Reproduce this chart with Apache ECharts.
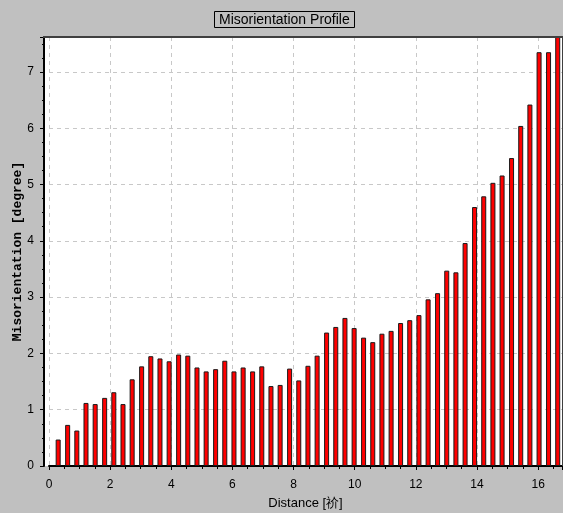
<!DOCTYPE html>
<html>
<head>
<meta charset="utf-8">
<script src="https://cdn.jsdelivr.net/npm/echarts@6/dist/echarts.min.js"></script>
<style>
  html, body { margin: 0; padding: 0; background: #c0c0c0; }
  #chart { width: 563px; height: 513px; }
</style>
</head>
<body>
<div id="chart"></div>
<script>
// distance along the profile (µm) for each bar
const distances = [
  0.30, 0.61, 0.91, 1.21, 1.51, 1.82, 2.12, 2.42, 2.72, 3.03,
  3.33, 3.63, 3.93, 4.24, 4.54, 4.84, 5.14, 5.45, 5.75, 6.05,
  6.35, 6.66, 6.96, 7.26, 7.56, 7.87, 8.17, 8.47, 8.77, 9.08,
  9.38, 9.68, 9.98, 10.29, 10.59, 10.89, 11.19, 11.50, 11.80, 12.10,
  12.40, 12.71, 13.01, 13.31, 13.61, 13.92, 14.22, 14.52, 14.82, 15.13,
  15.43, 15.73, 16.03, 16.34, 16.64
];

// misorientation in degrees
const misorientation = [
  0.47, 0.73, 0.63, 1.12, 1.10, 1.21, 1.31, 1.10, 1.54, 1.77,
  1.95, 1.91, 1.86, 1.98, 1.96, 1.75, 1.68, 1.72, 1.87, 1.68,
  1.75, 1.68, 1.77, 1.42, 1.44, 1.73, 1.52, 1.78, 1.96, 2.37,
  2.47, 2.63, 2.45, 2.28, 2.20, 2.35, 2.40, 2.54, 2.59, 2.68,
  2.96, 3.07, 3.47, 3.44, 3.96, 4.60, 4.79, 5.03, 5.16, 5.47,
  6.04, 6.42, 7.35, 7.35, 7.90
];

const xTicks = [0, 2, 4, 6, 8, 10, 12, 14, 16];
const yTicks = [0, 1, 2, 3, 4, 5, 6, 7];

const chart = echarts.init(document.getElementById('chart'));

const gridLine = {
  show: true,
  lineStyle: { color: '#c8c8c8', type: [4, 4], width: 1 }
};

const option = {
  backgroundColor: '#c0c0c0',
  animation: false,
  title: {
    text: 'Misorientation Profile',
    left: 214,
    top: 11,
    padding: [2, 5, 1, 5],
    borderColor: '#000',
    borderWidth: 1,
    textStyle: {
      fontFamily: 'Liberation Sans',
      fontSize: 14,
      fontWeight: 'normal',
      color: '#000'
    }
  },
  graphic: [
    {
      type: 'rect',
      z: -10,
      silent: true,
      shape: { x: 44, y: 37, width: 518, height: 429 },
      style: { fill: '#fff' }
    },
    {
      type: 'line',
      z: 10,
      silent: true,
      shape: { x1: 43, y1: 37, x2: 563, y2: 37 },
      style: { stroke: '#404040', lineWidth: 2 }
    },
    {
      type: 'line',
      z: 10,
      silent: true,
      shape: { x1: 562.5, y1: 37, x2: 562.5, y2: 466 },
      style: { stroke: '#404040', lineWidth: 1 }
    }
  ],
  grid: {
    left: 49,
    right: 1,
    top: 37,
    bottom: 47,
    containLabel: false,
    outerBoundsMode: 'none'
  },
  xAxis: {
    type: 'value',
    min: 0,
    max: 16.78,
    interval: 2,
    name: 'Distance [祄]',
    nameLocation: 'middle',
    nameGap: 31,
    nameMoveOverlap: false,
    nameTextStyle: { fontFamily: 'Liberation Sans', fontSize: 13, color: '#000' },
    axisLine: { show: true, onZero: false, lineStyle: { color: '#000', width: 2 } },
    axisTick: { show: true, length: 4, lineStyle: { color: '#000' } },
    minorTick: { show: true, splitNumber: 4, length: 3, lineStyle: { color: '#000' } },
    axisLabel: {
      color: '#000',
      fontFamily: 'Liberation Sans',
      fontSize: 12,
      margin: 13,
      showMaxLabel: false,
      formatter: v => (xTicks.indexOf(v) >= 0 ? String(v) : '')
    },
    splitLine: gridLine
  },
  yAxis: {
    type: 'value',
    min: 0,
    max: 7.62,
    interval: 1,
    offset: 5,
    name: 'Misorientation [degree]',
    nameLocation: 'middle',
    nameGap: 20,
    nameMoveOverlap: false,
    nameTextStyle: {
      fontFamily: 'Liberation Mono',
      fontSize: 13,
      fontWeight: 'bold',
      color: '#000'
    },
    axisLine: { show: true, onZero: false, lineStyle: { color: '#000', width: 2 } },
    axisTick: { show: true, length: 4, lineStyle: { color: '#000' } },
    minorTick: { show: true, splitNumber: 4, length: 2, lineStyle: { color: '#000' } },
    axisLabel: {
      color: '#000',
      fontFamily: 'Liberation Sans',
      fontSize: 12,
      margin: 10,
      showMaxLabel: false,
      formatter: v => (yTicks.indexOf(v) >= 0 ? String(v) : '')
    },
    splitLine: gridLine
  },
  series: [
    {
      type: 'bar',
      data: distances.map((d, i) => [d, misorientation[i]]),
      barWidth: 5,
      clip: true,
      itemStyle: {
        color: '#ff0000',
        borderColor: '#1a1a1a',
        borderWidth: 1
      }
    }
  ]
};

chart.setOption(option);
</script>
</body>
</html>
